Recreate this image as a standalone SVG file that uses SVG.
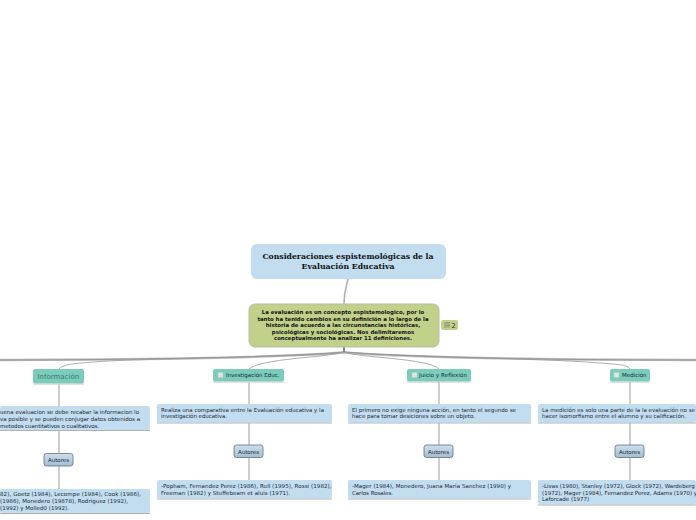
<svg xmlns="http://www.w3.org/2000/svg" width="696" height="520" viewBox="0 0 696 520">
<defs>
<linearGradient id="gb" x1="0" y1="0" x2="0" y2="1"><stop offset="0" stop-color="#cfdfec"/><stop offset="1" stop-color="#a3bdd3"/></linearGradient>
</defs>
<style>
text{font-family:"DejaVu Sans",sans-serif;fill:#1c2a33;font-size:5.5px}
.ln{fill:none;stroke:#b0b0b0;stroke-width:1.2}
.thin{fill:none;stroke:#999;stroke-width:.8}
.tr1{fill:none;stroke:#c0c0c0;stroke-width:2.4}
.tr2{fill:none;stroke:#8a8a8a;stroke-width:.8}
.tp{fill:#7accbb}
.tb{stroke:#c4c9c7;stroke-width:1}
.ck{fill:#dfe5e3;stroke:#bfc9c6;stroke-width:.5}
.bx{fill:#c2dcf0}
.ul{stroke:#b0b4b6;stroke-width:1}
.au{fill:url(#gb);stroke:#5f7080;stroke-width:.8}
.ttl{font-family:"DejaVu Serif",serif;font-size:8.2px;font-weight:700;fill:#111}
.mn{font-weight:700;font-size:5.4px;fill:#111}
</style>
<g id="connectors">
<path class="ln" style="stroke-width:1.6" d="M344 304C344 292 346 287 348 279"/>
<path class="tr1" d="M344 352.500C300 356 200 358.500 100 359.500C60 360 20 360 0 360"/>
<path class="tr1" d="M344 352.500C390 356 480 358.500 580 359.500C630 360 670 360 696 360"/>
<path class="tr2" d="M344 352C300 356 200 358.500 100 359.500C60 360 20 360 0 360"/>
<path class="tr2" d="M344 352C390 356 480 358.500 580 359.500C630 360 670 360 696 360"/>
<path d="M344 347V352" fill="none" stroke="#555" stroke-width="1.4"/>
<path class="thin" d="M344 352C320 357 150 358 100 361.500C80 363 62 364 59 369"/>
<path class="thin" d="M344 352C325 358 262 358 249 369"/>
<path class="thin" d="M344 352C360 358 428 358 439 369"/>
<path class="thin" d="M344 352C400 357 540 358 600 363C620 364.500 628 365 630 369"/>
<path class="ln" d="M59 384V406M59 431V453M59 466V489"/>
<path class="ln" d="M249 382V404M249 423V445M249 458V481"/>
<path class="ln" d="M439 382V404M439 423V445M439 458V481"/>
<path class="ln" d="M630 382V404M630 423V445M630 458V481"/>
</g>
<g id="root"><rect x="251" y="244" width="195" height="35" rx="6" fill="#c2dcf0"/>
<text class="ttl" x="348" y="259" text-anchor="middle" textLength="171" lengthAdjust="spacingAndGlyphs">Consideraciones espistemológicas de la</text>
<text class="ttl" x="348" y="269" text-anchor="middle" textLength="93" lengthAdjust="spacingAndGlyphs">Evaluación Educativa</text></g>
<g id="main"><rect x="249" y="304" width="190" height="43" rx="6" fill="#c1d18a" stroke="#b8bda8"/>
<text class="mn" x="343" y="314" text-anchor="middle">La evaluación es un concepto espistemologico, por lo</text>
<text class="mn" x="343" y="320.500" text-anchor="middle">tanto ha tenido cambios en su definición a lo largo de la</text>
<text class="mn" x="343" y="327" text-anchor="middle">historia de acuerdo a las circunstancias históricas,</text>
<text class="mn" x="343" y="333.500" text-anchor="middle">psicológicas y sociológicas. Nos delimitaremos</text>
<text class="mn" x="343" y="340" text-anchor="middle">conceptualmente ha analizar 11 definiciones.</text></g>
<g id="badge"><rect x="441" y="320" width="17" height="10" rx="2" fill="#c1d18a"/>
<path d="M444 322.500H450M444 324H450M444 325.500H450M444 327H450" stroke="#87927a" stroke-width=".9"/><rect x="444" y="322" width="1.800" height="5.500" fill="#a4ad94"/><text x="451.500" y="328" style="font-size:6.500px">2</text></g>
<g id="t1"><rect class="tp" x="33" y="369" width="51" height="14.500" rx="2"/><path class="tb" d="M33 384H84"/><text x="37.500" y="379" style="font-size:7px;fill:#3c7a6c">Información</text></g>
<g id="t2"><rect class="tp" x="213" y="369" width="71" height="12.500" rx="2"/><path class="tb" d="M213 382H284"/><rect class="ck" x="218" y="372.500" width="5" height="5"/><text x="226" y="377">Investigación Educ.</text></g>
<g id="t3"><rect class="tp" x="407" y="369" width="64" height="12.500" rx="2"/><path class="tb" d="M407 382H471"/><rect class="ck" x="412" y="372.500" width="5" height="5"/><text x="419" y="377" textLength="48">Juicio y Reflexión</text></g>
<g id="t4"><rect class="tp" x="610" y="369" width="40" height="12.500" rx="2"/><path class="tb" d="M610 382H650"/><rect class="ck" x="614" y="372.500" width="5" height="5"/><text x="622" y="377">Medición</text></g>
<g id="d1"><rect class="bx" x="0" y="406" width="150" height="24.500" rx="2"/><path class="ul" d="M0 430.500H150"/>
<text x="0" y="413.500" textLength="139">uena evaluacion se debe recabar la informacion lo</text><text x="0" y="420.500" textLength="140">va posible y se pueden conjugar datos obtenidos a</text><text x="0" y="427.500" textLength="99">metodos cuantitativos o cualitativos.</text></g>
<g id="d2"><rect class="bx" x="157" y="404" width="175" height="18.500" rx="2"/><path class="ul" d="M157 423H332"/>
<text x="161" y="412" textLength="163">Realiza una comparativa entre la Evaluación educativa y la</text><text x="161" y="418" textLength="66">investigación educativa.</text></g>
<g id="d3"><rect class="bx" x="348" y="404" width="183" height="18.500" rx="2"/><path class="ul" d="M348 423H531"/>
<text x="352" y="412" textLength="164">El primero no exige ninguna acción, en tanto el segundo se</text><text x="352" y="418" textLength="123">hace para tomar desiciones sobre un objeto.</text></g>
<g id="d4"><rect class="bx" x="538" y="404" width="158" height="18.500" rx="2"/><path class="ul" d="M538 423H696"/>
<text x="542" y="412" textLength="153">La medición es solo una parte de la la evaluación no se</text><text x="542" y="418" textLength="144">hacer isomorfismo entre el alumno y su calificación.</text></g>
<g id="a1"><rect class="au" x="44" y="453.500" width="29" height="12.500" rx="2.500"/><text x="58.500" y="462" text-anchor="middle">Autores</text></g>
<g id="a2"><rect class="au" x="234" y="445" width="29" height="12.500" rx="2.500"/><text x="248.500" y="453.500" text-anchor="middle">Autores</text></g>
<g id="a3"><rect class="au" x="424" y="445" width="29" height="12.500" rx="2.500"/><text x="438.500" y="453.500" text-anchor="middle">Autores</text></g>
<g id="a4"><rect class="au" x="615" y="445" width="29" height="12.500" rx="2.500"/><text x="629.500" y="453.500" text-anchor="middle">Autores</text></g>
<g id="r1"><rect class="bx" x="0" y="489" width="150" height="24.500" rx="2"/><path class="ul" d="M0 513.500H150"/>
<text x="0" y="496" textLength="141">82), Goetz (1984), Lecompe (1984), Cook (1986),</text><text x="0" y="503" textLength="128">(1986), Monedero (19878), Rodriguez (1992),</text><text x="0" y="510" textLength="69">(1992) y Molled0 (1992).</text></g>
<g id="r2"><rect class="bx" x="157" y="480" width="175" height="18.500" rx="2"/><path class="ul" d="M157 499H332"/>
<text x="161" y="488" textLength="170.500">-Popham, Fernandez Perez (1986), Rull (1995), Rossi (1982),</text><text x="161" y="495" textLength="129">Freeman (1982) y Stuffebeam et aluis (1971).</text></g>
<g id="r3"><rect class="bx" x="348" y="480" width="183" height="18.500" rx="2"/><path class="ul" d="M348 499H531"/>
<text x="352" y="488" textLength="159">-Mager (1984), Monedero, Juana Maria Sanchez (1990) y</text><text x="352" y="495" textLength="41">Carlos Rosales.</text></g>
<g id="r4"><rect class="bx" x="538" y="480" width="158" height="24.500" rx="2"/><path class="ul" d="M538 505H696"/>
<text x="542" y="488">-Livas (1980), Stanley (1972), Glock (1972), Wardeberg</text><text x="542" y="494.500">(1972), Mager (1984), Fernandez Perez, Adams (1970) y</text><text x="542" y="501">Laforcade (1977)</text></g>
</svg>
